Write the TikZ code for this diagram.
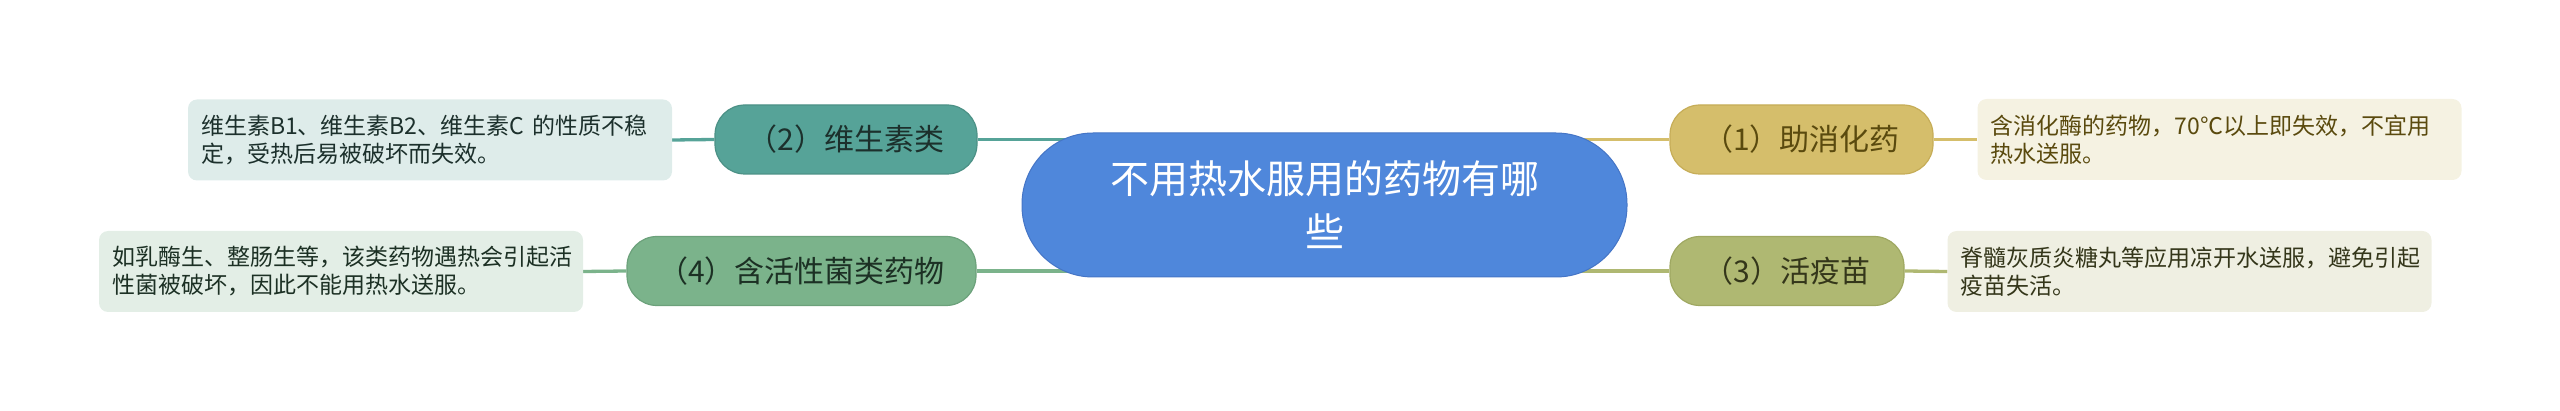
\documentclass[tikz,border=0pt]{standalone}
\usepackage{fontspec}
\setmainfont{Noto Sans CJK SC}
\usetikzlibrary{backgrounds}
\definecolor{cfill}{HTML}{4F87DB}
\definecolor{cdraw}{HTML}{4575C6}
\definecolor{tealf}{HTML}{56A398}
\definecolor{teald}{HTML}{4C9186}
\definecolor{tealbox}{HTML}{DEECEA}
\definecolor{tealtxt}{HTML}{1C302C}
\definecolor{greenf}{HTML}{7BB38B}
\definecolor{greend}{HTML}{6CA17B}
\definecolor{greenbox}{HTML}{E3EEE6}
\definecolor{greentxt}{HTML}{1C3024}
\definecolor{goldf}{HTML}{D5BE6B}
\definecolor{goldd}{HTML}{C6AD58}
\definecolor{goldbox}{HTML}{F5F2E2}
\definecolor{goldtxt}{HTML}{5A4A0E}
\definecolor{olivef}{HTML}{AFB872}
\definecolor{olived}{HTML}{9FA862}
\definecolor{olivebox}{HTML}{EFEFE2}
\definecolor{olivetxt}{HTML}{34361A}
\tikzset{
  centernode/.style={draw=cdraw, line width=1pt, fill=cfill, text=white, rounded corners=71pt,
    minimum width=605pt, minimum height=144pt, align=center, inner sep=0pt,
    font=\fontsize{39pt}{53pt}\selectfont},
  branchnode/.style={line width=1.2pt, rounded corners=30pt, minimum height=69pt, inner sep=0pt,
    font=\fontsize{30pt}{36pt}\selectfont},
  detailnode/.style={rounded corners=9pt, text width=458pt, inner xsep=13pt, inner ysep=0pt,
    minimum height=81pt, align=left, font=\fontsize{23pt}{28pt}\selectfont},
  conn/.style={line width=3.3pt},
}
\begin{document}
\begin{tikzpicture}[x=1pt,y=-1pt]
\useasboundingbox (0,0) rectangle (2560,411);
\node[centernode] (c) at (1324.5,205) {不用热水服用的药物有哪\\些};
\node[branchnode, fill=tealf, draw=teald, text=tealtxt, minimum width=262pt] (b2) at (846,139.5) {（2）维生素类};
\node[branchnode, fill=greenf, draw=greend, text=greentxt, minimum width=349pt] (b4) at (801.5,271) {（4）含活性菌类药物};
\node[branchnode, fill=goldf, draw=goldd, text=goldtxt, minimum width=263pt] (b1) at (1801.5,139.5) {（1）助消化药};
\node[branchnode, fill=olivef, draw=olived, text=olivetxt, minimum width=234pt] (b3) at (1787,271) {（3）活疫苗};
\node[detailnode, fill=tealbox, text=tealtxt] (d2) at (430,140) {维生素B1、维生素B2、维生素C 的性质不稳\\定，受热后易被破坏而失效。};
\node[detailnode, fill=greenbox, text=greentxt] (d4) at (341,271.5) {如乳酶生、整肠生等，该类药物遇热会引起活\\性菌被破坏，因此不能用热水送服。};
\node[detailnode, fill=goldbox, text=goldtxt] (d1) at (2219.5,139.5) {含消化酶的药物，70℃以上即失效，不宜用\\热水送服。};
\node[detailnode, fill=olivebox, text=olivetxt] (d3) at (2189.5,271.5) {脊髓灰质炎糖丸等应用凉开水送服，避免引起\\疫苗失活。};
\begin{scope}[on background layer]
\draw[conn, draw=tealf] (b2.east) -- (b2.east -| c.center);
\draw[conn, draw=greenf] (b4.east) -- (b4.east -| c.center);
\draw[conn, draw=goldf] (b1.west) -- (b1.west -| c.center);
\draw[conn, draw=olivef] (b3.west) -- (b3.west -| c.center);
\draw[conn, draw=tealf] (b2.west) -- (d2.east);
\draw[conn, draw=greenf] (b4.west) -- (d4.east);
\draw[conn, draw=goldf] (b1.east) -- (d1.west);
\draw[conn, draw=olivef] (b3.east) -- (d3.west);
\end{scope}
\end{tikzpicture}
\end{document}
